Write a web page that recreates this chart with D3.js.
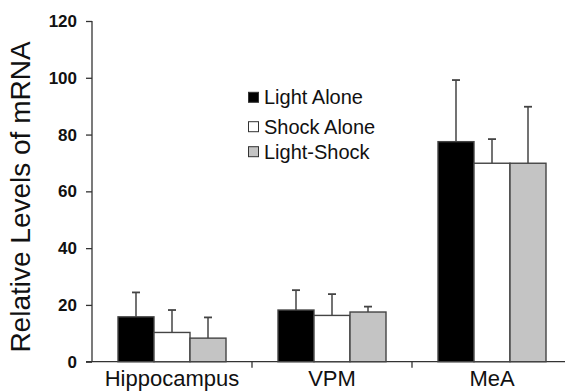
<!DOCTYPE html>
<html><head><meta charset="utf-8">
<script src="https://cdn.jsdelivr.net/npm/d3@7"></script>
<style>body{margin:0;background:#fff}svg{display:block}</style>
</head><body>
<svg id="c" width="565" height="391"></svg>
<script>
const categories = ["Hippocampus", "VPM", "MeA"];
const seriesNames = ["Light Alone", "Shock Alone", "Light-Shock"];
const lightAlone = [15.8, 18.2, 77.5];
const shockAlone = [10.3, 16.3, 69.9];
const lightShock = [8.3, 17.5, 69.9];
const errLightAlone = [8.6, 7.0, 21.7];
const errShockAlone = [7.9, 7.5, 8.5];
const errLightShock = [7.3, 1.9, 19.9];
const yTicks = [0, 20, 40, 60, 80, 100, 120];
const colors = ["#000000", "#ffffff", "#c4c4c4"];

const values = [lightAlone, shockAlone, lightShock];
const errs = [errLightAlone, errShockAlone, errLightShock];

const svg = d3.select("#c");
const y = d3.scaleLinear().domain([0, 120]).range([361.7, 21]);
const x0 = d3.scaleBand().domain(categories).range([92, 572]).padding(0);
const x1 = d3.scaleBand().domain(seriesNames).range([0, x0.bandwidth()]).paddingInner(0).paddingOuter(0.722);

// y axis
const yAxis = d3.axisLeft(y).tickValues(yTicks).tickSize(6).tickPadding(9);
const gy = svg.append("g").attr("transform", "translate(92,0)").call(yAxis);
gy.select(".domain").attr("stroke", "#333").attr("stroke-width", 1.3).attr("d", "M0,21V362");
gy.selectAll(".tick line").attr("stroke", "#333").attr("stroke-width", 1.3);
gy.selectAll(".tick text").attr("font-family", "Liberation Sans, Arial, sans-serif")
  .attr("font-weight", "bold").attr("font-size", 17).attr("fill", "#111");

// x axis
const gx = svg.append("g").attr("transform", "translate(0,361.7)");
gx.append("line").attr("x1", 86).attr("x2", 565).attr("y1", 0).attr("y2", 0).attr("stroke", "#333").attr("stroke-width", 1.3);
gx.selectAll(".sep").data(categories.slice(1)).join("line").attr("class", "sep")
  .attr("x1", d => x0(d)).attr("x2", d => x0(d)).attr("y1", 0).attr("y2", 6)
  .attr("stroke", "#333").attr("stroke-width", 1.3);
gx.selectAll(".cat").data(categories).join("text").attr("class", "cat")
  .attr("x", d => x0(d) + x0.bandwidth() / 2).attr("y", 24)
  .attr("text-anchor", "middle").attr("font-family", "Liberation Sans, Arial, sans-serif")
  .attr("font-size", 22).attr("fill", "#111").text(d => d);

// y title
svg.append("text").attr("transform", "translate(30,197) rotate(-90)")
  .attr("text-anchor", "middle").attr("font-family", "Liberation Sans, Arial, sans-serif")
  .attr("font-size", 28).attr("fill", "#111").text("Relative Levels of mRNA");

// bars
const groups = svg.selectAll(".grp").data(categories).join("g").attr("class", "grp")
  .attr("transform", d => `translate(${x0(d)},0)`);
seriesNames.forEach((s, si) => {
  groups.each(function(c, ci) {
    const g = d3.select(this);
    const v = values[si][ci], e = errs[si][ci];
    const bx = x1(s), bw = x1.bandwidth(), cx = bx + bw / 2;
    g.append("line").attr("x1", cx).attr("x2", cx).attr("y1", y(v)).attr("y2", y(v + e))
      .attr("stroke", "#444").attr("stroke-width", 1.5);
    g.append("line").attr("x1", cx - 4).attr("x2", cx + 4).attr("y1", y(v + e)).attr("y2", y(v + e))
      .attr("stroke", "#444").attr("stroke-width", 1.8);
  });
});
seriesNames.forEach((s, si) => {
  groups.append("rect")
    .attr("x", x1(s)).attr("width", x1.bandwidth())
    .attr("y", (c, ci) => y(values[si][ci]))
    .attr("height", (c, ci) => y(0) - y(values[si][ci]))
    .attr("fill", colors[si]).attr("stroke", "#444").attr("stroke-width", 1.4);
});

// legend
const legY = [97.3, 126.7, 151.7];
const leg = svg.selectAll(".leg").data(seriesNames).join("g").attr("class", "leg")
  .attr("transform", (d, i) => `translate(248,${legY[i]})`);
leg.append("rect").attr("x", 0.5).attr("y", -5).attr("width", 10).attr("height", 10)
  .attr("fill", (d, i) => colors[i]).attr("stroke", "#333").attr("stroke-width", 1);
leg.append("text").attr("x", 16).attr("y", 7).attr("font-family", "Liberation Sans, Arial, sans-serif")
  .attr("font-size", 20).attr("fill", "#111").text(d => d);
</script>
</body></html>
